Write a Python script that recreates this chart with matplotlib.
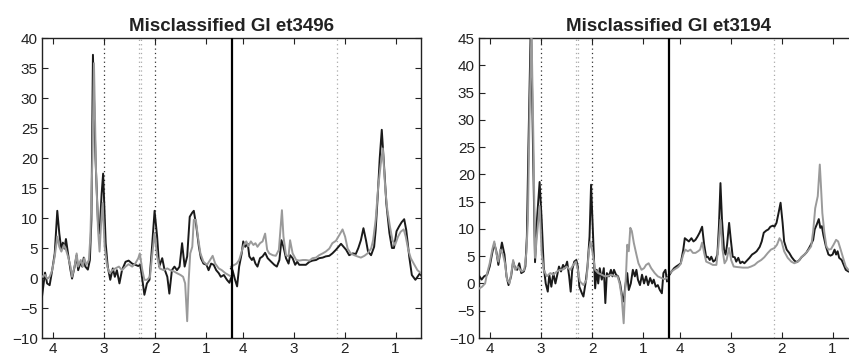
import numpy as np
import matplotlib
matplotlib.use('Agg')
import matplotlib.pyplot as plt

plt.rcParams['font.family'] = ['Liberation Sans', 'DejaVu Sans']

# каждый спектр: два участка (короткое и длинное TE), ось ppm 4.22 -> 0.5
PPM_HI, PPM_LO = 4.22, 0.5

titles = ['Misclassified GI et3496', 'Misclassified GI et3194']
ylims = [(-10, 40), (-10, 45)]
tick_ppm = [4, 3, 2, 1]

# --- et3496, участок 1 ---
a1_blk_ppm = [4.22, 4.16, 4.12, 4.07, 4.02, 3.97, 3.92, 3.88, 3.84, 3.81, 3.78, 3.75, 3.71, 3.66, 3.63,
              3.58, 3.54, 3.51, 3.46, 3.43, 3.40, 3.37, 3.32, 3.28, 3.25, 3.22, 3.17, 3.12, 3.09, 3.05,
              3.02, 2.97, 2.93, 2.88, 2.83, 2.79, 2.75, 2.70, 2.65, 2.58, 2.52, 2.45, 2.39, 2.33, 2.29,
              2.25, 2.21, 2.16, 2.11, 2.06, 2.01, 1.96, 1.92, 1.86, 1.82, 1.76, 1.72, 1.67, 1.62, 1.57,
              1.52, 1.47, 1.42, 1.37, 1.32, 1.27, 1.24, 1.19, 1.14, 1.10, 1.05, 0.99, 0.95, 0.90, 0.85,
              0.80, 0.75, 0.71, 0.65, 0.59, 0.54, 0.50]
a1_blk_val = [-3.1, 0.9, -0.9, -1.2, 1.3, 4.1, 11.2, 7.4, 4.7, 5.9, 4.9, 6.5, 4.1, 1.3, -0.1,
              1.9, 3.8, 1.3, 2.7, 1.9, 3.4, 1.9, 1.4, 3.0, 9.7, 37.2, 20.0, 9.0, 7.4, 14.0,
              17.4, 5.8, 1.9, -0.3, 1.6, 0.2, 1.3, -0.9, 1.3, 2.7, 2.9, 2.4, 2.2, 2.0, 2.2,
              -0.3, -2.8, -0.9, -0.3, 5.2, 11.2, 6.9, 1.9, 3.3, 1.6, 0.2, -2.6, 1.3, 1.9, 1.3,
              1.9, 5.8, 1.9, 3.6, 10.2, 10.9, 11.2, 8.6, 5.2, 3.3, 2.4, 2.2, 1.3, 2.4, 2.2,
              1.3, 0.8, 0.2, 0.5, -0.3, -0.8, 0.3]
a1_gry_ppm = [4.22, 4.16, 4.12, 4.07, 4.02, 3.97, 3.92, 3.88, 3.84, 3.79, 3.75, 3.71, 3.66, 3.63, 3.58,
              3.54, 3.51, 3.46, 3.42, 3.39, 3.35, 3.30, 3.27, 3.23, 3.20, 3.16, 3.12, 3.09, 3.06, 3.03,
              2.99, 2.94, 2.89, 2.84, 2.78, 2.71, 2.65, 2.58, 2.52, 2.45, 2.39, 2.33, 2.30, 2.25, 2.21,
              2.16, 2.10, 2.06, 2.01, 1.96, 1.91, 1.83, 1.76, 1.70, 1.63, 1.57, 1.50, 1.45, 1.41, 1.37,
              1.34, 1.31, 1.27, 1.24, 1.20, 1.16, 1.11, 1.05, 0.98, 0.92, 0.87, 0.82, 0.75, 0.69, 0.62,
              0.56, 0.50]
a1_gry_val = [0.2, 0.5, -0.1, 0.2, 1.3, 3.6, 6.9, 5.2, 4.4, 5.5, 4.7, 3.6, 1.9, 0.2, 1.9,
              4.1, 1.9, 3.0, 1.9, 3.3, 2.2, 3.0, 6.9, 20.0, 35.8, 18.0, 8.0, 4.4, 9.0, 12.5,
              5.2, 1.9, 0.8, 1.3, 1.6, 1.9, 1.3, 1.9, 2.3, 1.9, 2.4, 3.3, 4.1, 1.3, -0.3,
              -0.3, 0.2, 3.6, 7.5, 3.6, 1.6, 1.3, 1.6, 1.3, 1.1, 0.8, 0.5, 0.2, -0.9, -7.2,
              -0.3, 4.1, 5.2, 9.7, 9.7, 6.9, 4.1, 2.7, 2.2, 3.0, 3.7, 2.4, 1.6, 1.3, 0.8,
              0.5, 0.2]

# --- et3496, участок 2 ---
a2_blk_ppm = [4.23, 4.20, 4.15, 4.11, 4.07, 4.02, 3.99, 3.95, 3.90, 3.87, 3.82, 3.79, 3.75, 3.71, 3.66,
              3.61, 3.56, 3.51, 3.44, 3.38, 3.33, 3.28, 3.24, 3.20, 3.15, 3.10, 3.07, 3.02, 2.97, 2.93,
              2.89, 2.82, 2.76, 2.69, 2.63, 2.56, 2.50, 2.43, 2.37, 2.30, 2.24, 2.17, 2.12, 2.07, 2.03,
              1.97, 1.91, 1.84, 1.78, 1.73, 1.68, 1.63, 1.58, 1.54, 1.48, 1.42, 1.39, 1.35, 1.31, 1.27,
              1.22, 1.18, 1.12, 1.07, 1.03, 0.98, 0.93, 0.88, 0.83, 0.79, 0.73, 0.68, 0.61, 0.56, 0.52,
              0.48]
a2_blk_val = [1.6, 1.3, -0.3, -1.4, 1.9, 4.1, 6.1, 5.2, 5.7, 3.6, 3.0, 3.4, 2.4, 1.9, 3.3,
              3.6, 4.2, 3.3, 2.7, 2.2, 1.9, 3.0, 6.3, 5.2, 3.3, 2.4, 3.8, 3.3, 2.2, 2.7,
              2.2, 2.2, 2.2, 2.7, 2.9, 3.0, 3.3, 3.4, 3.6, 3.7, 4.1, 4.7, 5.2, 5.7, 5.3,
              4.7, 3.8, 4.1, 4.0, 5.0, 6.3, 8.3, 6.3, 4.4, 3.8, 5.2, 8.0, 13.6, 20.0, 24.7,
              18.0, 12.4, 7.5, 5.0, 5.0, 7.8, 8.6, 9.3, 9.8, 8.0, 3.5, 0.5, -0.3, 0.3, 0.8,
              0.2]
a2_gry_ppm = [4.23, 4.16, 4.12, 4.07, 4.02, 3.98, 3.93, 3.89, 3.84, 3.79, 3.75, 3.71, 3.66, 3.61, 3.56,
              3.52, 3.48, 3.41, 3.35, 3.29, 3.26, 3.23, 3.20, 3.15, 3.10, 3.07, 3.02, 2.95, 2.89, 2.82,
              2.76, 2.69, 2.63, 2.56, 2.50, 2.43, 2.37, 2.30, 2.24, 2.17, 2.10, 2.04, 1.99, 1.94, 1.88,
              1.81, 1.75, 1.68, 1.61, 1.55, 1.48, 1.44, 1.39, 1.34, 1.29, 1.25, 1.20, 1.16, 1.11, 1.06,
              1.01, 0.95, 0.90, 0.84, 0.80, 0.75, 0.70, 0.63, 0.57, 0.50]
a2_gry_val = [1.9, 2.2, 2.4, 3.0, 4.4, 5.5, 6.1, 5.3, 6.1, 5.5, 5.8, 5.2, 5.8, 6.1, 7.4,
              4.7, 4.1, 3.8, 3.7, 4.7, 8.0, 11.3, 6.9, 3.8, 3.6, 6.3, 4.1, 3.0, 2.9, 3.0,
              3.0, 2.9, 3.3, 3.4, 3.8, 4.1, 4.4, 4.9, 5.8, 6.2, 7.2, 8.1, 6.9, 4.9, 4.1,
              3.8, 3.6, 3.4, 3.7, 4.1, 4.9, 6.3, 9.7, 15.2, 19.0, 21.6, 14.7, 11.3, 8.6, 6.3,
              5.5, 6.9, 7.7, 8.1, 6.9, 4.7, 3.3, 2.2, 1.3, 0.8]

# --- et3194, участок 1 ---
b1_blk_ppm = [4.21, 4.17, 4.12, 4.06, 4.01, 3.96, 3.92, 3.88, 3.84, 3.81, 3.77, 3.72, 3.68, 3.64, 3.59,
              3.55, 3.51, 3.47, 3.43, 3.39, 3.34, 3.31, 3.28, 3.25, 3.20, 3.16, 3.12, 3.08, 3.03, 2.99,
              2.95, 2.91, 2.87, 2.84, 2.80, 2.76, 2.72, 2.69, 2.65, 2.61, 2.57, 2.53, 2.49, 2.45, 2.42,
              2.39, 2.35, 2.31, 2.28, 2.25, 2.20, 2.17, 2.13, 2.09, 2.05, 2.02, 1.98, 1.94, 1.91, 1.88,
              1.85, 1.81, 1.77, 1.74, 1.71, 1.67, 1.63, 1.60, 1.57, 1.53, 1.49, 1.45, 1.41, 1.38, 1.35,
              1.31, 1.28, 1.24, 1.20, 1.16, 1.13, 1.10, 1.06, 1.02, 0.98, 0.94, 0.90, 0.86, 0.82, 0.79,
              0.75, 0.71, 0.67, 0.63, 0.60, 0.56, 0.53]
b1_blk_val = [1.3, 0.7, 1.3, 1.6, 3.1, 5.6, 7.3, 5.9, 3.4, 5.3, 7.5, 5.3, 1.3, -0.3, 1.3,
              4.0, 2.8, 2.5, 3.7, 1.9, 2.2, 3.1, 8.6, 25.0, 49.0, 25.0, 3.9, 12.0, 18.6, 11.7,
              3.1, 0.0, -1.5, 1.6, -0.6, 1.9, 0.0, 1.3, 3.1, 2.2, 3.4, 2.8, 4.0, 1.3, -1.5,
              2.5, 4.0, 4.3, 3.1, -0.6, -1.8, -2.4, 0.0, 3.1, 8.6, 18.1, 8.6, -0.9, 2.5, 0.0,
              2.8, 0.7, 2.8, -3.6, 1.9, 1.3, 2.5, 1.3, 2.5, 1.6, 1.3, 0.0, -2.4, -3.3, -0.6,
              1.9, -1.2, 0.0, 2.5, 1.3, 2.5, 0.7, -0.3, 1.6, 0.0, 1.3, -0.3, 1.0, 0.0, 0.7,
              -0.6, -0.3, -1.2, -1.8, 1.9, 2.5, 0.4]
b1_gry_ppm = [4.21, 4.16, 4.10, 4.06, 4.01, 3.96, 3.92, 3.88, 3.84, 3.80, 3.75, 3.71, 3.67, 3.62, 3.58,
              3.55, 3.51, 3.46, 3.41, 3.38, 3.33, 3.29, 3.26, 3.23, 3.19, 3.15, 3.12, 3.07, 3.03, 2.99,
              2.95, 2.89, 2.82, 2.76, 2.69, 2.63, 2.56, 2.50, 2.43, 2.37, 2.32, 2.28, 2.24, 2.17, 2.11,
              2.06, 2.03, 1.99, 1.94, 1.88, 1.81, 1.75, 1.68, 1.62, 1.55, 1.50, 1.46, 1.42, 1.38, 1.36,
              1.33, 1.31, 1.28, 1.25, 1.22, 1.18, 1.13, 1.09, 1.03, 0.98, 0.94, 0.89, 0.84, 0.77, 0.71,
              0.64, 0.58, 0.53]
b1_gry_val = [-0.9, -0.6, 0.0, 1.9, 3.7, 6.2, 7.7, 5.6, 4.0, 6.2, 5.3, 3.7, 0.7, 0.0, 2.2,
              4.3, 2.5, 3.1, 2.5, 2.2, 2.5, 5.6, 11.7, 30.0, 47.0, 25.0, 4.7, 10.0, 14.2, 5.6,
              2.5, 1.3, 1.9, 1.6, 2.2, 2.5, 2.6, 3.1, 2.5, 3.4, 4.0, 2.5, 0.4, -0.3, 0.7,
              6.2, 7.7, 5.6, 2.5, 1.9, 1.6, 1.3, 1.4, 1.6, 1.3, 1.3, 0.0, -2.4, -7.3, -3.0,
              2.5, 7.1, 5.9, 10.2, 9.6, 7.4, 5.3, 3.7, 2.5, 2.8, 3.4, 3.7, 2.8, 1.9, 1.3,
              1.0, 0.8, 1.0]

# --- et3194, участок 2 ---
b2_blk_ppm = [4.22, 4.16, 4.11, 4.07, 4.02, 3.98, 3.93, 3.90, 3.86, 3.82, 3.77, 3.73, 3.69, 3.65, 3.61,
              3.56, 3.52, 3.48, 3.45, 3.41, 3.38, 3.34, 3.30, 3.26, 3.23, 3.20, 3.17, 3.13, 3.10, 3.07,
              3.03, 3.00, 2.96, 2.92, 2.89, 2.85, 2.81, 2.77, 2.73, 2.68, 2.63, 2.58, 2.53, 2.49, 2.43,
              2.39, 2.35, 2.30, 2.26, 2.22, 2.17, 2.14, 2.10, 2.06, 2.02, 1.98, 1.95, 1.90, 1.85, 1.80,
              1.75, 1.70, 1.65, 1.61, 1.55, 1.51, 1.46, 1.41, 1.38, 1.35, 1.31, 1.27, 1.24, 1.21, 1.18,
              1.13, 1.08, 1.04, 1.00, 0.96, 0.93, 0.90, 0.87, 0.82, 0.78, 0.74, 0.69, 0.62, 0.55, 0.50]
b2_blk_val = [1.3, 2.2, 2.8, 3.1, 3.4, 3.7, 6.2, 8.3, 8.0, 7.7, 8.3, 7.7, 8.0, 8.6, 9.3,
              10.4, 7.1, 4.8, 4.9, 4.3, 4.9, 4.0, 4.3, 5.3, 10.5, 18.4, 11.7, 6.2, 5.3, 7.1,
              11.1, 8.3, 4.9, 4.8, 4.0, 4.7, 3.7, 4.0, 3.7, 4.2, 4.7, 5.3, 5.6, 5.9, 6.7,
              7.7, 9.3, 9.7, 9.9, 10.4, 10.6, 10.4, 11.1, 12.9, 14.8, 11.1, 7.7, 6.2, 5.6, 4.8,
              4.2, 3.9, 4.3, 4.8, 5.3, 5.7, 6.5, 7.4, 8.0, 9.9, 10.8, 11.8, 10.2, 10.5, 8.9,
              6.8, 5.3, 5.1, 5.3, 6.2, 5.3, 5.9, 4.7, 4.3, 3.4, 2.5, 2.2, 2.0, 1.8, 1.8]
b2_gry_ppm = [4.22, 4.16, 4.10, 4.03, 3.98, 3.93, 3.89, 3.84, 3.79, 3.74, 3.69, 3.64, 3.60, 3.56, 3.52,
              3.48, 3.41, 3.35, 3.28, 3.24, 3.20, 3.16, 3.12, 3.08, 3.03, 2.99, 2.94, 2.86, 2.76, 2.66,
              2.60, 2.53, 2.47, 2.40, 2.34, 2.27, 2.21, 2.14, 2.09, 2.04, 2.00, 1.95, 1.88, 1.81, 1.75,
              1.68, 1.62, 1.55, 1.49, 1.42, 1.38, 1.34, 1.29, 1.25, 1.23, 1.20, 1.16, 1.12, 1.08, 1.03,
              0.98, 0.93, 0.89, 0.84, 0.78, 0.74, 0.69, 0.60, 0.50]
b2_gry_val = [1.6, 2.2, 2.6, 3.0, 3.6, 5.3, 6.2, 5.9, 6.2, 5.6, 5.6, 5.9, 6.2, 7.5, 5.6,
              4.0, 3.7, 3.4, 3.4, 6.8, 11.7, 6.2, 3.7, 4.3, 6.5, 4.3, 3.1, 3.0, 2.9, 2.9,
              3.1, 3.4, 3.9, 4.3, 4.8, 5.6, 6.2, 6.5, 7.1, 8.3, 7.7, 5.9, 4.7, 4.0, 3.7,
              4.0, 4.7, 5.3, 5.9, 6.8, 9.6, 13.8, 16.0, 21.8, 18.4, 12.9, 9.3, 6.8, 6.2, 6.3,
              7.1, 8.0, 7.7, 6.2, 4.3, 3.1, 2.5, 2.0, 1.8]

panels = [
    [(a1_blk_ppm, a1_blk_val, a1_gry_ppm, a1_gry_val), (a2_blk_ppm, a2_blk_val, a2_gry_ppm, a2_gry_val)],
    [(b1_blk_ppm, b1_blk_val, b1_gry_ppm, b1_gry_val), (b2_blk_ppm, b2_blk_val, b2_gry_ppm, b2_gry_val)],
]

# пунктирные метки: (ppm, участок, цвет)
marks = [(3.0, 0, '#333333'), (2.32, 0, '#aaaaaa'), (2.28, 0, '#aaaaaa'), (2.0, 0, '#333333'),
         (2.15, 1, '#aaaaaa')]

SEG = PPM_HI - PPM_LO


def to_u(ppm, seg):
    return (PPM_HI - np.asarray(ppm, dtype=float)) + seg * SEG


BLACK = '#1a1a1a'
GRAY = '#9a9a9a'

fig = plt.figure(figsize=(8.49, 3.56), dpi=100)
axes_pos = [[42 / 849, 18 / 356, 379 / 849, 300 / 356],
            [479 / 849, 18 / 356, 379 / 849, 300 / 356]]

for k in range(2):
    ax = fig.add_axes(axes_pos[k])
    for ppm, seg, c in marks:
        ax.axvline(to_u(ppm, seg), color=c, lw=0.9, ls=(0, (1, 2.5)), zorder=1)
    for seg in range(2):
        bp, bv, gp, gv = panels[k][seg]
        ax.plot(to_u(bp, seg), bv, color=BLACK, lw=1.4, zorder=3)
        ax.plot(to_u(gp, seg), gv, color=GRAY, lw=1.4, zorder=4)
    ax.axvline(SEG, color='black', lw=1.6, zorder=5)

    ax.set_xlim(0, 2 * SEG)
    ax.set_ylim(*ylims[k])
    ax.set_yticks(np.arange(ylims[k][0], ylims[k][1] + 1, 5))
    ticks = list(to_u(tick_ppm, 0)) + list(to_u(tick_ppm, 1))
    ax.set_xticks(ticks)
    ax.set_xticklabels([str(t) for t in tick_ppm] * 2)
    ax.tick_params(direction='in', top=True, right=True, length=4, width=0.8,
                   labelsize=11, pad=3, colors='#222222')
    for s in ax.spines.values():
        s.set_linewidth(1.0)
        s.set_color('#222222')
    ax.set_title(titles[k], fontsize=13.5, fontweight='bold', color='#222222', pad=5)

fig.savefig('out.png', dpi=100)
